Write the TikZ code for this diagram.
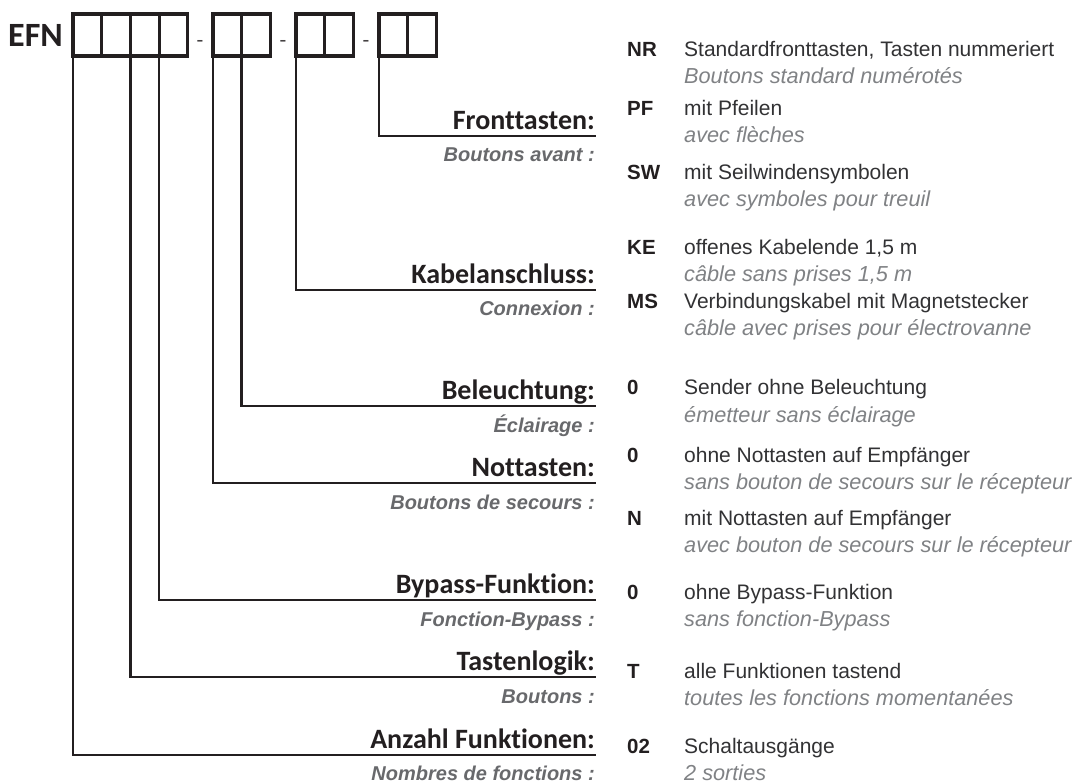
\documentclass[tikz,border=0pt]{standalone}
\usepackage{fontspec}
\setmainfont{Liberation Sans}
\newfontfamily\carlito[Ligatures=NoCommon]{Carlito}
\usepackage{tikz}
\usetikzlibrary{positioning}
\definecolor{inkblack}{RGB}{35, 31, 32}
\definecolor{labelgray}{RGB}{104, 105, 108}
\definecolor{descgray}{RGB}{50, 50, 52}
\definecolor{transgray}{RGB}{128, 130, 133}

\begin{document}
\begin{tikzpicture}[x=1pt, y=-1pt]
    % Styles
    \tikzstyle{cell} = [draw=inkblack, line width=3.2pt, minimum width=28.7pt, minimum height=42pt, inner sep=0pt, outer sep=0pt]
    \tikzstyle{sepmark} = [font=\carlito\fontsize{22}{22}\selectfont, text=inkblack!85, inner sep=0pt]
    \tikzstyle{delabel} = [font=\carlito\bfseries\fontsize{28}{30}\selectfont, text=inkblack, anchor=south east, inner sep=1pt, text depth=5pt]
    \tikzstyle{frlabel} = [font=\bfseries\itshape\fontsize{20}{22}\selectfont, text=labelgray, anchor=base east, inner sep=1pt]
    \tikzstyle{optcode} = [font=\bfseries\fontsize{20.5}{22}\selectfont, text=inkblack, anchor=base west, inner sep=0pt]
    \tikzstyle{desc} = [font=\fontsize{21}{24}\selectfont, text=descgray, anchor=base west, inner sep=0pt]
    \tikzstyle{descfr} = [font=\itshape\fontsize{21.7}{24}\selectfont, text=transgray, anchor=base west, inner sep=0pt]
    \tikzstyle{conn} = [draw=inkblack, line width=2.5pt]

    \useasboundingbox[fill=white] (0,0) rectangle (1084,783);

    % Order code boxes
    \node[cell, anchor=north west] (c1) at (73,14) {};
    \node[cell, right=0pt of c1] (c2) {};
    \node[cell, right=0pt of c2] (c3) {};
    \node[cell, right=0pt of c3] (c4) {};
    \node[font=\carlito\bfseries\fontsize{34}{34}\selectfont, text=inkblack, inner sep=0pt, left=10pt of c1] (efn) {EFN};
    \node[sepmark] (d1) at (200,44) {-};
    \node[cell, anchor=north west] (c5) at (213,14) {};
    \node[cell, right=0pt of c5] (c6) {};
    \node[sepmark] (d2) at (283,44) {-};
    \node[cell, anchor=north west] (c7) at (296,14) {};
    \node[cell, right=0pt of c7] (c8) {};
    \node[sepmark] (d3) at (366,44) {-};
    \node[cell, anchor=north west] (c9) at (379,14) {};
    \node[cell, right=0pt of c9] (c10) {};

    % Option groups
    \node[delabel] (front) at (596,136) {Fronttasten:};
    \node[frlabel] (frontfr) at (596,162) {Boutons avant :};
    \node[delabel] (kabel) at (596,290) {Kabelanschluss:};
    \node[frlabel] (kabelfr) at (596,316) {Connexion :};
    \node[delabel] (licht) at (596,406) {Beleuchtung:};
    \node[frlabel] (lichtfr) at (596,432) {Éclairage :};
    \node[delabel] (not) at (596,483) {Nottasten:};
    \node[frlabel] (notfr) at (596,509) {Boutons de secours :};
    \node[delabel] (bypass) at (596,600) {Bypass-Funktion:};
    \node[frlabel] (bypassfr) at (596,626) {Fonction-Bypass :};
    \node[delabel] (logik) at (596,677) {Tastenlogik:};
    \node[frlabel] (logikfr) at (596,703) {Boutons :};
    \node[delabel] (anzahl) at (596,755) {Anzahl Funktionen:};
    \node[frlabel] (anzahlfr) at (596,780) {Nombres de fonctions :};

    % Leader lines
    \draw[conn] (c9.south west) |- (front.south east);
    \draw[conn] (c7.south west) |- (kabel.south east);
    \draw[conn] (c6.south west) |- (licht.south east);
    \draw[conn] (c5.south west) |- (not.south east);
    \draw[conn] (c4.south west) |- (bypass.south east);
    \draw[conn] (c3.south west) |- (logik.south east);
    \draw[conn] (c1.south west) |- (anzahl.south east);

    % Options
    \node[optcode] (nr) at (627,57) {NR};
    \node[desc] (nrde) at (684,57) {Standardfronttasten, Tasten nummeriert};
    \node[descfr] (nrfr) at (684,84) {Boutons standard numérotés};
    \node[optcode] (pf) at (627,116) {PF};
    \node[desc] (pfde) at (684,116) {mit Pfeilen};
    \node[descfr] (pffr) at (684,143) {avec flèches};
    \node[optcode] (sw) at (627,180) {SW};
    \node[desc] (swde) at (684,180) {mit Seilwindensymbolen};
    \node[descfr] (swfr) at (684,207) {avec symboles pour treuil};

    \node[optcode] (ke) at (627,255) {KE};
    \node[desc] (kede) at (684,255) {offenes Kabelende 1,5 m};
    \node[descfr] (kefr) at (684,282) {câble sans prises 1,5 m};
    \node[optcode] (ms) at (627,309) {MS};
    \node[desc] (msde) at (684,309) {Verbindungskabel mit Magnetstecker};
    \node[descfr] (msfr) at (684,336) {câble avec prises pour électrovanne};

    \node[optcode] (licht0) at (627,395) {0};
    \node[desc] (licht0de) at (684,395) {Sender ohne Beleuchtung};
    \node[descfr] (licht0fr) at (684,422) {émetteur sans éclairage};

    \node[optcode] (not0) at (627,462) {0};
    \node[desc] (not0de) at (684,462) {ohne Nottasten auf Empfänger};
    \node[descfr] (not0fr) at (684,489) {sans bouton de secours sur le récepteur};
    \node[optcode] (notn) at (627,525) {N};
    \node[desc] (notnde) at (684,525) {mit Nottasten auf Empfänger};
    \node[descfr] (notnfr) at (684,552) {avec bouton de secours sur le récepteur};

    \node[optcode] (bypass0) at (627,599) {0};
    \node[desc] (bypass0de) at (684,599) {ohne Bypass-Funktion};
    \node[descfr] (bypass0fr) at (684,626) {sans fonction-Bypass};

    \node[optcode] (logikt) at (627,678) {T};
    \node[desc] (logiktde) at (684,678) {alle Funktionen tastend};
    \node[descfr] (logiktfr) at (684,705) {toutes les fonctions momentanées};

    \node[optcode] (anz02) at (627,753) {02};
    \node[desc] (anz02de) at (684,753) {Schaltausgänge};
    \node[descfr] (anz02fr) at (684,780) {2 sorties};
\end{tikzpicture}
\end{document}
